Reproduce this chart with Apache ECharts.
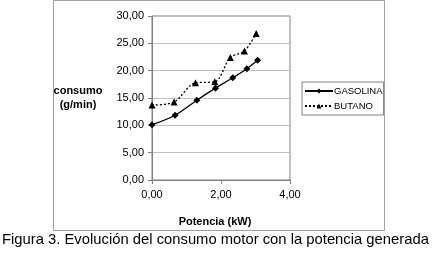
<!DOCTYPE html>
<html>
<head>
<meta charset="utf-8">
<script src="https://cdn.jsdelivr.net/npm/echarts@6/dist/echarts.min.js"></script>
<style>html,body{margin:0;padding:0;background:#fff}#c{width:440px;height:254px}</style>
</head>
<body>
<div id="c"></div>
<script>
const gasolinaX = [0, 0.67, 1.30, 1.84, 2.34, 2.75, 3.06];
const gasolinaY = [10.1, 11.85, 14.6, 16.8, 18.7, 20.35, 21.9];
const butanoX = [0, 0.64, 1.26, 1.82, 2.27, 2.68, 3.02];
const butanoY = [13.7, 14.25, 17.8, 17.95, 22.4, 23.6, 26.8];
const seriesNames = ['GASOLINA', 'BUTANO'];
const xTicks = [0, 2, 4];
const yTicks = [0, 5, 10, 15, 20, 25, 30];
const xTitle = 'Potencia (kW)';
const yTitle = 'consumo\n(g/min)';
const caption = 'Figura 3. Evolución del consumo motor con la potencia generada';

const fmt = v => v.toFixed(2).replace('.', ',');
const font = 'Liberation Sans, Arial, sans-serif';
const chart = echarts.init(document.getElementById('c'), null, {renderer: 'canvas'});
chart.setOption({
  animation: false,
  textStyle: {fontFamily: font},
  grid: {left: 152, right: 150, top: 16, bottom: 74, show: true, borderColor: '#808080', borderWidth: 1},
  title: {text: caption, left: 2, top: 232, padding: 0,
    textStyle: {fontFamily: font, fontSize: 14.8, fontWeight: 'normal', color: '#000'}},
  graphic: [{type: 'rect', shape: {x: 53.5, y: 0.5, width: 331, height: 230},
    style: {fill: 'none', stroke: '#a0a0a0', lineWidth: 1}, silent: true, z: -1}],
  legend: {
    left: 302, top: 82, orient: 'vertical', itemGap: 5, itemWidth: 28, itemHeight: 6,
    borderColor: '#808080', borderWidth: 1, padding: [4, 1, 4, 2],
    textStyle: {fontFamily: font, fontSize: 9.5, color: '#000', padding: [0, 0, 0, -4]},
    data: seriesNames
  },
  xAxis: {
    type: 'value', min: xTicks[0], max: xTicks[xTicks.length - 1], interval: 2,
    name: xTitle, nameLocation: 'middle', nameGap: 36,
    nameTextStyle: {fontFamily: font, fontSize: 11, fontWeight: 'bold', color: '#000', padding: [0, 12, 0, 0]},
    axisLine: {lineStyle: {color: '#808080'}},
    axisTick: {show: true, length: 4, inside: false, lineStyle: {color: '#808080'}},
    axisLabel: {formatter: fmt, fontSize: 11, color: '#000', margin: 9},
    splitLine: {show: false}
  },
  yAxis: {
    type: 'value', min: yTicks[0], max: yTicks[yTicks.length - 1], interval: 5,
    name: yTitle, nameLocation: 'middle', nameGap: 74, nameRotate: 0,
    nameTextStyle: {fontFamily: font, fontSize: 11, fontWeight: 'bold', color: '#000', lineHeight: 14, align: 'center'},
    axisLine: {show: true, lineStyle: {color: '#808080'}},
    axisTick: {show: true, length: 4, inside: false, lineStyle: {color: '#808080'}},
    axisLabel: {formatter: fmt, fontSize: 11, color: '#000', margin: 8},
    splitLine: {show: true, lineStyle: {color: '#c0c0c0', width: 1}}
  },
  series: [
    {name: seriesNames[0], type: 'line', smooth: 0.3,
      data: gasolinaX.map((x, i) => [x, gasolinaY[i]]),
      symbol: 'diamond', symbolSize: 7,
      itemStyle: {color: '#000'}, lineStyle: {color: '#000', width: 1.3}},
    {name: seriesNames[1], type: 'line', smooth: 0.3,
      data: butanoX.map((x, i) => [x, butanoY[i]]),
      symbol: 'triangle', symbolSize: 7,
      itemStyle: {color: '#000'}, lineStyle: {color: '#000', width: 1.3, type: [2, 2]}}
  ]
});
</script>
</body>
</html>
